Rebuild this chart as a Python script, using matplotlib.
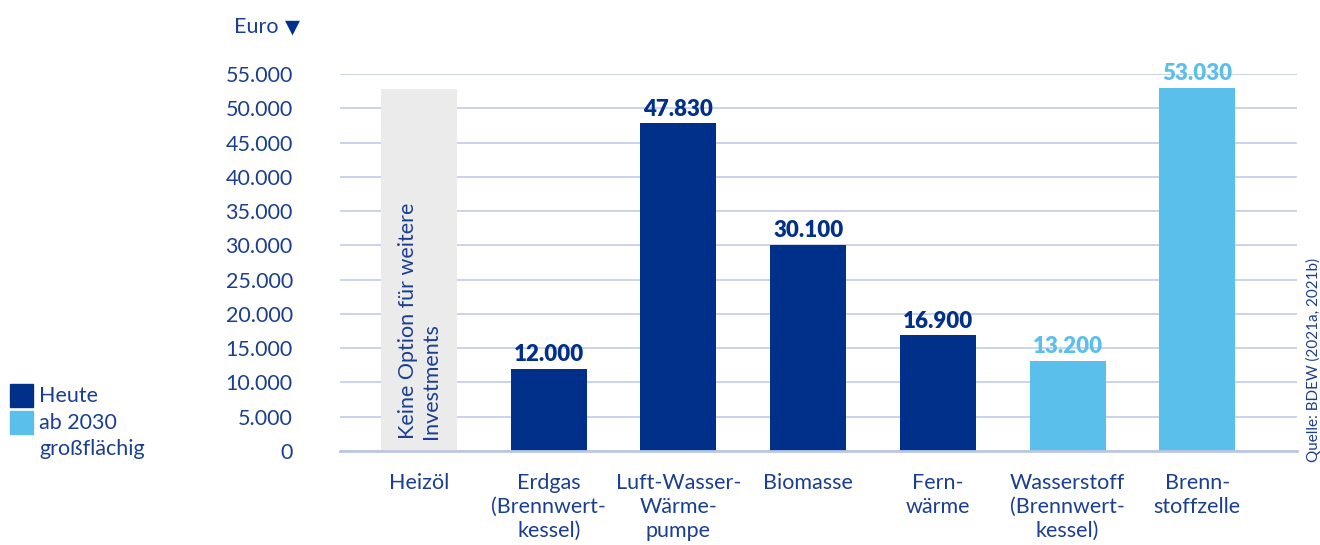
import matplotlib.pyplot as plt
from matplotlib.patches import Rectangle

plt.rcParams['font.family'] = ['Lato', 'DejaVu Sans']

# Data
categories = ["Heizöl", "Erdgas\n(Brennwert-\nkessel)", "Luft-Wasser-\nWärme-\npumpe",
              "Biomasse", "Fern-\nwärme", "Wasserstoff\n(Brennwert-\nkessel)", "Brenn-\nstoffzelle"]
values = [None, 12000, 47830, 30100, 16900, 13200, 53030]
series = ["none", "heute", "heute", "heute", "heute", "2030", "2030"]
placeholder_height = 52800
yticks = list(range(0, 55001, 5000))
ytick_labels = ["0" if v == 0 else f"{v:,}".replace(",", ".") for v in yticks]

dark = "#00308a"
light = "#5bbfeb"
grey = "#ebebeb"
text_col = "#1b3f8f"
grid_col = "#bcc7e2"

fig = plt.figure(figsize=(13.2, 5.45), dpi=100)
ax = fig.add_axes([0.2576, 0.1725, 0.725, 0.6917])

x = list(range(len(categories)))
w = 0.586
for i, (v, s) in enumerate(zip(values, series)):
    if v is None:
        ax.bar(i, placeholder_height, width=w, color=grey, zorder=2)
        ax.text(i, 1800, "Keine Option für weitere\nInvestments", rotation=90,
                ha="center", va="bottom", multialignment="left",
                color=text_col, fontsize=15.5, linespacing=1.2, zorder=3)
        continue
    c = dark if s == "heute" else light
    ax.bar(i, v, width=w, color=c, zorder=2)
    ax.text(i, v + 500, f"{v:,}".replace(",", "."), ha="center", va="bottom",
            color=c, fontsize=16, fontweight="heavy", zorder=3, clip_on=False)

ax.set_xlim(-0.61, 6.77)
ax.set_ylim(0, 55000)
ax.set_yticks(yticks)
ax.set_yticklabels(ytick_labels)
ax.set_xticks(x)
ax.set_xticklabels(categories, linespacing=1.25)
ax.tick_params(axis="y", length=0, pad=34, labelsize=15.5, labelcolor=text_col)
ax.tick_params(axis="x", length=0, pad=16, labelsize=15.5, labelcolor=text_col)
ax.yaxis.grid(True, color=grid_col, linewidth=1.1, zorder=0)
for sp in ["top", "right", "left"]:
    ax.spines[sp].set_visible(False)
ax.spines["bottom"].set_color(grid_col)
ax.spines["bottom"].set_linewidth(2)

# Unit label
fig.text(0.177, 0.950, "Euro", color=text_col, fontsize=15.5, va="center", ha="left")
fig.text(0.2215, 0.950, "▼", color=dark, fontsize=14, va="center", ha="center",
         family=["DejaVu Sans"])

# Legend
fig.patches.append(Rectangle((10 / 1320, 1 - 407 / 545), 23 / 1320, 23 / 545,
                             transform=fig.transFigure, color=dark))
fig.patches.append(Rectangle((10 / 1320, 1 - 434 / 545), 23 / 1320, 23 / 545,
                             transform=fig.transFigure, color=light))
fig.text(39 / 1320, 1 - 396 / 545, "Heute", color=text_col, fontsize=15.5, va="center")
fig.text(39 / 1320, 1 - 423 / 545, "ab 2030", color=text_col, fontsize=15.5, va="center")
fig.text(39 / 1320, 1 - 449 / 545, "großflächig", color=text_col, fontsize=15.5, va="center")

# Source
fig.text(1313 / 1320, 1 - 360 / 545, "Quelle: BDEW (2021a, 2021b)", rotation=90,
         color=text_col, fontsize=11, ha="center", va="center")

fig.savefig("out.png", dpi=100)
